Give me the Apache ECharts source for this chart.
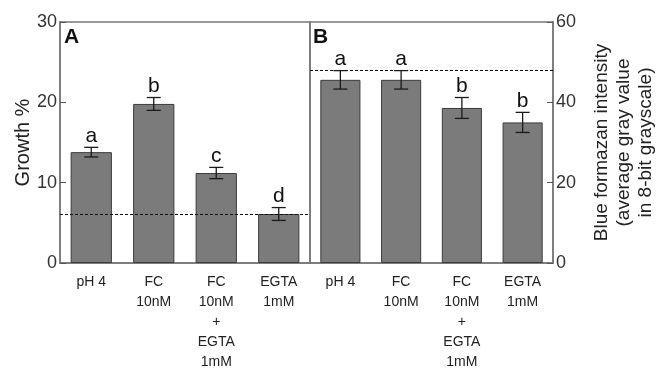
<!DOCTYPE html>
<html><head><meta charset="utf-8">
<script src="https://cdn.jsdelivr.net/npm/echarts@6/dist/echarts.min.js"></script>
<style>html,body{margin:0;padding:0;background:#fff}#c{width:658px;height:372px}</style>
</head><body><div id="c"></div>
<script>
const categories = ['pH 4', 'FC\n10nM', 'FC\n10nM\n+\nEGTA\n1mM', 'EGTA\n1mM'];
const growthMean = [13.8, 19.8, 11.2, 6.1];
const growthErr = [0.6, 0.8, 0.7, 0.8];
const growthLetters = ['a', 'b', 'c', 'd'];
const growthBaseline = 6.1;
const formazanMean = [45.6, 45.6, 38.6, 35.0];
const formazanErr = [2.3, 2.3, 2.6, 2.5];
const formazanLetters = ['a', 'a', 'b', 'b'];
const formazanBaseline = 47.9;
const growthAxis = {min: 0, max: 30, interval: 10};
const formazanAxis = {min: 0, max: 60, interval: 20};

const FONT = 'Liberation Sans, Arial, Helvetica, sans-serif';
const chart = echarts.init(document.getElementById('c'));

function makeErr(letters) {
  return function (params, api) {
    const x = api.value(0), m = api.value(1), e = api.value(2);
    const hi = api.coord([x, m + e]);
    const lo = api.coord([x, m - e]);
    const hw = 7;
    const st = {stroke: '#1a1a1a', lineWidth: 1.3};
    return {type: 'group', children: [
      {type: 'line', shape: {x1: hi[0], y1: hi[1], x2: lo[0], y2: lo[1]}, style: st},
      {type: 'line', shape: {x1: hi[0] - hw, y1: hi[1], x2: hi[0] + hw, y2: hi[1]}, style: st},
      {type: 'line', shape: {x1: lo[0] - hw, y1: lo[1], x2: lo[0] + hw, y2: lo[1]}, style: st},
      {type: 'text', x: hi[0], y: hi[1] - 1, style: {text: letters[params.dataIndex], fill: '#111',
        font: '21px ' + FONT, textAlign: 'center', textVerticalAlign: 'bottom'}}
    ]};
  };
}

const xAxisCommon = {
  type: 'category', data: categories,
  axisTick: {show: false},
  axisLine: {show: true, lineStyle: {color: '#777', width: 1.5}},
  axisLabel: {color: '#222', fontFamily: FONT, fontSize: 14, lineHeight: 20, margin: 9, interval: 0}
};
const barStyle = {color: '#7b7b7b', borderColor: '#3c3c3c', borderWidth: 1};

chart.setOption({
  animation: false,
  grid: [
    {left: 60, top: 22, width: 250, height: 245, show: true, borderColor: '#777', borderWidth: 1.5},
    {left: 310, top: 22, width: 248, height: 245, show: true, borderColor: '#777', borderWidth: 1.5}
  ],
  xAxis: [
    Object.assign({gridIndex: 0}, xAxisCommon),
    Object.assign({gridIndex: 1}, xAxisCommon)
  ],
  yAxis: [
    {gridIndex: 0, type: 'value', min: growthAxis.min, max: growthAxis.max, interval: growthAxis.interval,
      position: 'left', splitLine: {show: false},
      axisLine: {show: true, lineStyle: {color: '#777', width: 1.5}},
      axisTick: {show: true, inside: true, length: 6, lineStyle: {color: '#555'}},
      axisLabel: {color: '#333', fontFamily: FONT, fontSize: 18, margin: 3},
      name: 'Growth %', nameLocation: 'middle', nameGap: 27, nameRotate: 90,
      nameTextStyle: {color: '#222', fontFamily: FONT, fontSize: 20}},
    {gridIndex: 1, type: 'value', min: formazanAxis.min, max: formazanAxis.max, interval: formazanAxis.interval,
      position: 'right', splitLine: {show: false},
      axisLine: {show: true, lineStyle: {color: '#777', width: 1.5}},
      axisTick: {show: true, inside: true, length: 6, lineStyle: {color: '#555'}},
      axisLabel: {color: '#333', fontFamily: FONT, fontSize: 18, margin: 3},
      name: 'Blue formazan intensity\n(average gray value\nin 8-bit grayscale)',
      nameLocation: 'middle', nameGap: 38, nameRotate: 90,
      nameTextStyle: {color: '#222', fontFamily: FONT, fontSize: 19, lineHeight: 22, align: 'center'}}
  ],
  series: [
    {type: 'bar', xAxisIndex: 0, yAxisIndex: 0, data: growthMean, barWidth: '66%', itemStyle: barStyle,
      markLine: {silent: true, symbol: 'none', label: {show: false},
        lineStyle: {type: [3, 2], color: '#111', width: 1}, data: [{yAxis: growthBaseline}]}},
    {type: 'bar', xAxisIndex: 1, yAxisIndex: 1, data: formazanMean, barWidth: '66%', itemStyle: barStyle,
      markLine: {silent: true, symbol: 'none', label: {show: false},
        lineStyle: {type: [3, 2], color: '#111', width: 1}, data: [{yAxis: formazanBaseline}]}},
    {type: 'custom', xAxisIndex: 0, yAxisIndex: 0, z: 5, renderItem: makeErr(growthLetters),
      data: growthMean.map((m, i) => [i, m, growthErr[i]])},
    {type: 'custom', xAxisIndex: 1, yAxisIndex: 1, z: 5, renderItem: makeErr(formazanLetters),
      data: formazanMean.map((m, i) => [i, m, formazanErr[i]])}
  ],
  graphic: [
    {type: 'text', left: 64, top: 27, style: {text: 'A', font: 'bold 21px ' + FONT, fill: '#111'}},
    {type: 'text', left: 313, top: 27, style: {text: 'B', font: 'bold 21px ' + FONT, fill: '#111'}}
  ]
});
</script></body></html>
